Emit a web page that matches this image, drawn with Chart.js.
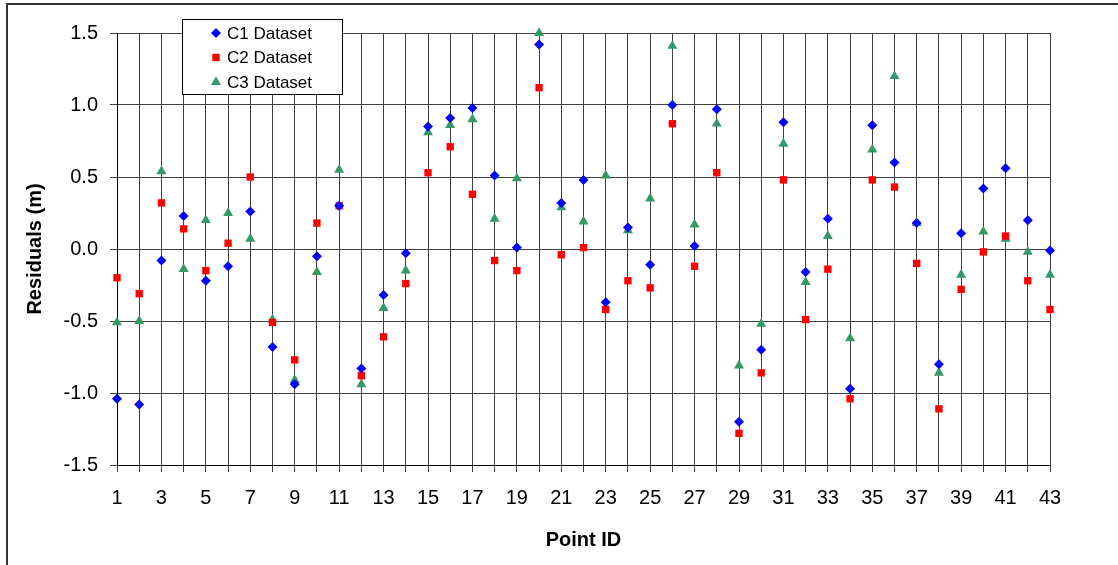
<!DOCTYPE html>
<html>
<head>
<meta charset="utf-8">
<title>Residuals by Point ID</title>
<script src="https://cdn.jsdelivr.net/npm/chart.js@4.4.1/dist/chart.umd.min.js"></script>
<style>
  html, body { margin: 0; padding: 0; background: #fff; overflow: hidden; }
  canvas { display: block; }
</style>
</head>
<body>
<canvas id="residualsChart" width="1118" height="565"></canvas>
<script>
// Residuals per survey point, one array per dataset
const pointIds = [1, 2, 3, 4, 5, 6, 7, 8, 9, 10, 11, 12, 13, 14, 15, 16, 17, 18, 19, 20, 21, 22,
  23, 24, 25, 26, 27, 28, 29, 30, 31, 32, 33, 34, 35, 36, 37, 38, 39, 40, 41, 42, 43];

const c1Residuals = [-1.04, -1.08, -0.08, 0.23, -0.22, -0.12, 0.26, -0.68, -0.94, -0.05, 0.30,
  -0.83, -0.32, -0.03, 0.85, 0.91, 0.98, 0.51, 0.01, 1.42, 0.32, 0.48, -0.37, 0.15, -0.11, 1.00,
  0.02, 0.97, -1.20, -0.70, 0.88, -0.16, 0.21, -0.97, 0.86, 0.60, 0.18, -0.80, 0.11, 0.42, 0.56,
  0.20, -0.01];

const c2Residuals = [-0.20, -0.31, 0.32, 0.14, -0.15, 0.04, 0.50, -0.51, -0.77, 0.18, 0.30,
  -0.88, -0.61, -0.24, 0.53, 0.71, 0.38, -0.08, -0.15, 1.12, -0.04, 0.01, -0.42, -0.22, -0.27,
  0.87, -0.12, 0.53, -1.28, -0.86, 0.48, -0.49, -0.14, -1.04, 0.48, 0.43, -0.10, -1.11, -0.28,
  -0.02, 0.09, -0.22, -0.42];

const c3Residuals = [-0.51, -0.50, 0.54, -0.14, 0.20, 0.25, 0.07, -0.49, -0.91, -0.16, 0.55,
  -0.94, -0.41, -0.15, 0.81, 0.86, 0.90, 0.21, 0.49, 1.50, 0.29, 0.19, 0.51, 0.13, 0.35, 1.41,
  0.17, 0.87, -0.81, -0.52, 0.73, -0.23, 0.09, -0.62, 0.69, 1.20, 0.18, -0.86, -0.18, 0.12,
  0.07, -0.02, -0.18];

// only odd ids get a label, every id gets a grid line
const xTickLabels = [1, 3, 5, 7, 9, 11, 13, 15, 17, 19, 21, 23, 25, 27, 29, 31, 33, 35, 37, 39, 41, 43];
const yTickValues = [-1.5, -1.0, -0.5, 0.0, 0.5, 1.0, 1.5];

const toPoints = (values) => values.map((v, i) => ({ x: pointIds[i], y: v }));

Chart.defaults.font.family = '"Liberation Sans", Arial, sans-serif';
Chart.defaults.color = '#000';

// thin frame around the whole figure
const outerFrame = {
  id: 'outerFrame',
  beforeDraw(chart) {
    const ctx = chart.ctx;
    ctx.save();
    ctx.strokeStyle = '#333';
    ctx.lineWidth = 2;
    ctx.strokeRect(7, 4, 1300, 800);
    ctx.restore();
  }
};

// legend box sitting over the top of the plot
const floatingLegend = {
  id: 'floatingLegend',
  afterDraw(chart) {
    const ctx = chart.ctx;
    const box = { x: 182, y: 19, w: 160, h: 75 };
    ctx.save();
    ctx.fillStyle = '#fff';
    ctx.fillRect(box.x, box.y, box.w, box.h);
    ctx.strokeStyle = '#000';
    ctx.lineWidth = 1;
    ctx.strokeRect(box.x + 0.5, box.y + 0.5, box.w, box.h);

    chart.data.datasets.forEach((ds, i) => {
      const cy = box.y + 14 + i * 24.5;
      ctx.fillStyle = ds.backgroundColor;
      Chart.helpers.drawPoint(ctx, {
        pointStyle: ds.pointStyle,
        radius: ds.pointRadius,
        borderWidth: 0,
        rotation: 0
      }, box.x + 34, cy);
      ctx.fillStyle = '#000';
      ctx.font = '17px "Liberation Sans", Arial, sans-serif';
      ctx.textAlign = 'left';
      ctx.textBaseline = 'middle';
      ctx.fillText(ds.label, box.x + 45, cy + 1);
    });
    ctx.restore();
  }
};

const gridColor = '#404040';

new Chart(document.getElementById('residualsChart'), {
  type: 'scatter',
  data: {
    datasets: [
      {
        label: 'C1 Dataset',
        data: toPoints(c1Residuals),
        pointStyle: 'rectRot',
        pointRadius: 5,
        backgroundColor: '#0000ff',
        borderWidth: 0,
        clip: false
      },
      {
        label: 'C2 Dataset',
        data: toPoints(c2Residuals),
        pointStyle: 'rect',
        pointRadius: 5.2,
        backgroundColor: '#ff0000',
        borderWidth: 0,
        clip: false
      },
      {
        label: 'C3 Dataset',
        data: toPoints(c3Residuals),
        pointStyle: 'triangle',
        pointRadius: 5.8,
        backgroundColor: '#339966',
        borderWidth: 0,
        clip: false
      }
    ]
  },
  options: {
    responsive: false,
    animation: false,
    layout: { padding: { top: 33, right: 68, left: 0, bottom: 0 } },
    plugins: {
      legend: { display: false },
      tooltip: { enabled: false }
    },
    scales: {
      x: {
        type: 'linear',
        position: 'bottom',
        min: 1,
        max: 43,
        afterFit: (scale) => { scale.height = 100; },
        ticks: {
          stepSize: 1,
          autoSkip: false,
          maxRotation: 0,
          padding: 14,
          font: { size: 20 },
          callback: (value) => xTickLabels.includes(value) ? String(value) : ''
        },
        grid: { color: gridColor, lineWidth: 1, tickLength: 7 },
        border: { color: '#000', width: 1 },
        title: {
          display: true,
          text: 'Point ID',
          font: { size: 20, weight: 'bold' },
          padding: { top: 4, bottom: 13 }
        }
      },
      y: {
        min: -1.5,
        max: 1.5,
        afterFit: (scale) => { scale.width = 117; },
        afterBuildTicks: (scale) => { scale.ticks = yTickValues.map(v => ({ value: v })); },
        ticks: {
          padding: 12,
          font: { size: 20 },
          callback: (value) => value.toFixed(1)
        },
        grid: { color: gridColor, lineWidth: 1, tickLength: 7 },
        border: { color: '#000', width: 1 },
        title: {
          display: true,
          text: 'Residuals (m)',
          font: { size: 20, weight: 'bold' },
          padding: { top: 23 }
        }
      }
    }
  },
  plugins: [outerFrame, floatingLegend]
});
</script>
</body>
</html>
